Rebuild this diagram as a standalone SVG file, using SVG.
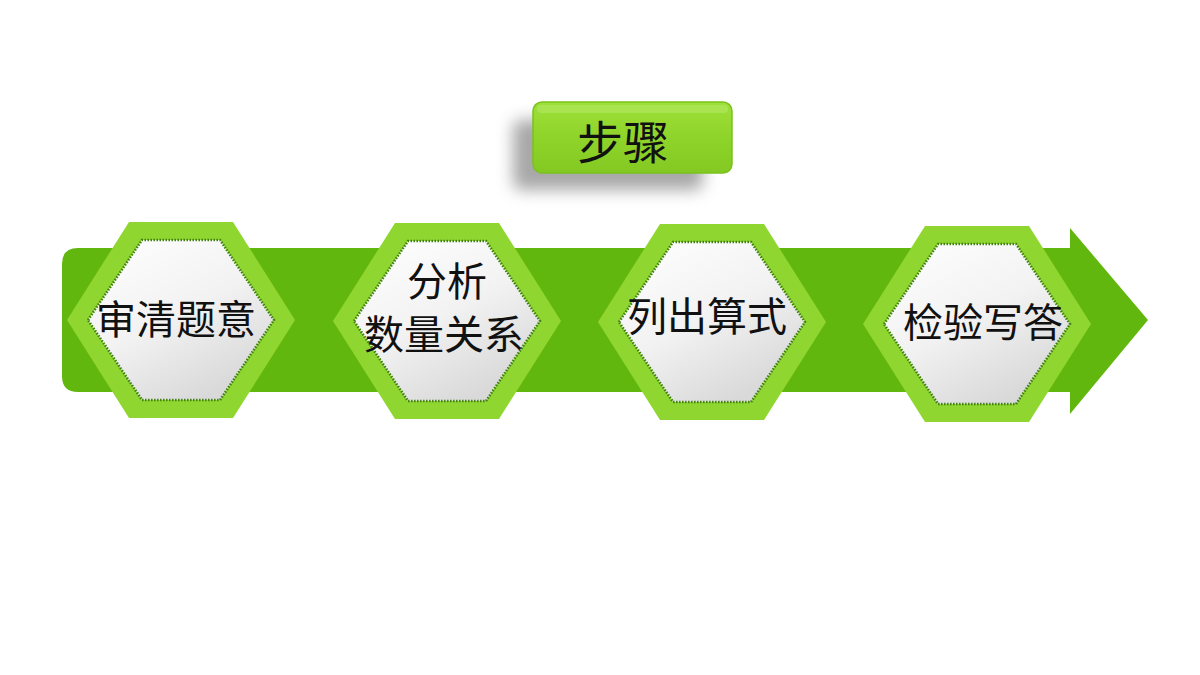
<svg xmlns="http://www.w3.org/2000/svg" width="1200" height="675" viewBox="0 0 1200 675">
<style>
.outer{fill:#8fd631}
.inner{fill:url(#ig);stroke:#3f7f0e;stroke-width:2.6;stroke-dasharray:1.5 1.5}
.lbl{font-family:"Liberation Sans","Noto Sans CJK SC",sans-serif;font-size:40px;fill:#111;text-anchor:middle}
</style>
<defs>
<linearGradient id="ig" x1="0" y1="0" x2="0.6" y2="1">
<stop offset="0" stop-color="#ffffff"/>
<stop offset="0.55" stop-color="#f2f2f2"/>
<stop offset="1" stop-color="#d9d9d9"/>
</linearGradient>
<linearGradient id="tg" x1="0" y1="0" x2="0" y2="1">
<stop offset="0" stop-color="#9ee03a"/>
<stop offset="0.5" stop-color="#8fd42a"/>
<stop offset="1" stop-color="#84c922"/>
</linearGradient>
<filter id="sh" x="-30%" y="-50%" width="160%" height="220%">
<feGaussianBlur stdDeviation="8"/>
</filter>
<polygon id="hexo" points="-114,0 -52,-98 52,-98 114,0 52,98 -52,98"/>
<polygon id="hexi" points="-93,0 -39,-80 39,-80 93,0 39,80 -39,80"/>
</defs>
<rect width="1200" height="675" fill="#ffffff"/>
<g id="arrow">
<path d="M78,248 H1070 V228 L1148,320 L1070,414 V392 H78 Q62,392 62,376 V264 Q62,248 78,248 Z" fill="#62b70e"/>
</g>
<g id="title">
<rect x="513" y="120" width="190" height="70" rx="8" fill="#8a8a8a" opacity="0.75" filter="url(#sh)"/>
<rect x="533" y="102" width="199" height="71" rx="9" fill="url(#tg)" stroke="#7ac21c" stroke-width="1.5"/>
<rect x="537" y="105" width="191" height="8" rx="4" fill="#b8ec6a" opacity="0.5"/>
<text x="623" y="159" font-family="'Liberation Sans','Noto Sans CJK SC',sans-serif" font-size="46" fill="#111" text-anchor="middle">步骤</text>
</g>
<g id="step1" transform="translate(181,320)">
<use href="#hexo" class="outer"/>
<use href="#hexi" class="inner"/>
<text class="lbl" x="-5" y="14">审清题意</text>
</g>
<g id="step2" transform="translate(447,321)">
<use href="#hexo" class="outer"/>
<use href="#hexi" class="inner"/>
<text class="lbl" x="0" y="-25">分析</text>
<text class="lbl" x="-3" y="28">数量关系</text>
</g>
<g id="step3" transform="translate(712,322)">
<use href="#hexo" class="outer"/>
<use href="#hexi" class="inner"/>
<text class="lbl" x="-5" y="9">列出算式</text>
</g>
<g id="step4" transform="translate(977,324)">
<use href="#hexo" class="outer"/>
<use href="#hexi" class="inner"/>
<text class="lbl" x="6" y="13">检验写答</text>
</g>
<g id="connectors"></g>
</svg>
